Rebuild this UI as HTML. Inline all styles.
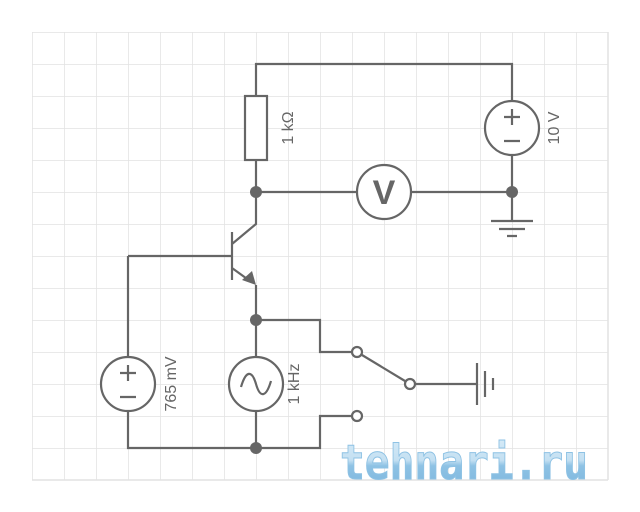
<!DOCTYPE html>
<html><head><meta charset="utf-8"><style>
html,body{margin:0;padding:0;background:#fff;}
svg{display:block;}
text{font-family:"Liberation Sans",sans-serif;fill:#666;}
</style></head><body>
<svg width="640" height="512" viewBox="0 0 640 512" xmlns="http://www.w3.org/2000/svg">
<defs>
<pattern id="g" width="32" height="32" patternUnits="userSpaceOnUse" x="32" y="32">
<path d="M0 0H32M0 0V32" stroke="#e2e2e2" stroke-width="1.5" fill="none"/>
</pattern>
<linearGradient id="wm" x1="0" y1="0" x2="0" y2="1">
<stop offset="0" stop-color="#d8ecf8"/><stop offset="0.45" stop-color="#c4e0f2"/><stop offset="0.55" stop-color="#8ec2e4"/><stop offset="1" stop-color="#7cb6de"/>
</linearGradient>
</defs>
<rect x="32" y="32" width="576" height="448" fill="url(#g)"/>
<path d="M608 32V480M32 480H608" stroke="#e2e2e2" stroke-width="1.5"/>
<g stroke="#666" stroke-width="2.2" fill="none">
<path d="M256 96V64H512V101M512 155V221"/>
<rect x="245" y="96" width="22" height="64" fill="#fff"/>
<path d="M256 160V224L232 244M232 232V280M128 256H232M128 256V357M128 411V448H320V416H352M232 268L250 281M256 285V357M256 411V448M256 320H320V352H352"/>
<path d="M256 192H357M411 192H512"/>
<circle cx="384" cy="192" r="27" fill="#fff"/>
<circle cx="512" cy="128" r="27" fill="#fff"/>
<circle cx="128" cy="384" r="27" fill="#fff"/>
<circle cx="256" cy="384" r="27" fill="#fff"/>
<path d="M491 221H533M499 229H525M507 236H517"/>
<path d="M362 355L405 381M416 384H477M477 363V405M485 371V397M493 378V390"/>
<circle cx="357" cy="352" r="5" fill="#fff"/>
<circle cx="410" cy="384" r="5" fill="#fff"/>
<circle cx="357" cy="416" r="5" fill="#fff"/>
<path d="M512 109V125M504 117H520M504 141H520"/>
<path d="M128 365V381M120 373H136M120 397H136"/>
<path d="M241 387C246 370 252 370 256 384S266 398 271 381"/>
</g>
<path d="M256 285L242 280L252 271Z" fill="#666"/>
<g fill="#666">
<circle cx="256" cy="192" r="6"/><circle cx="512" cy="192" r="6"/>
<circle cx="256" cy="320" r="6"/><circle cx="256" cy="448" r="6"/>
</g>
<text x="384" y="204" font-size="34" font-weight="bold" text-anchor="middle" style="fill:#666">V</text>
<text transform="translate(293,128) rotate(-90)" font-size="16" text-anchor="middle">1 kΩ</text>
<text transform="translate(559,128) rotate(-90)" font-size="16" text-anchor="middle">10 V</text>
<text transform="translate(176,384) rotate(-90)" font-size="16" text-anchor="middle">765 mV</text>
<text transform="translate(299,384) rotate(-90)" font-size="16" text-anchor="middle">1 kHz</text>
<text x="464" y="479" font-size="48" font-weight="bold" text-anchor="middle" textLength="248" lengthAdjust="spacingAndGlyphs" stroke="#8ec2e4" stroke-width="1" style="fill:url(#wm);font-family:'DejaVu Sans Mono','Liberation Mono',monospace">tehnari.ru</text>
</svg>
</body></html>
